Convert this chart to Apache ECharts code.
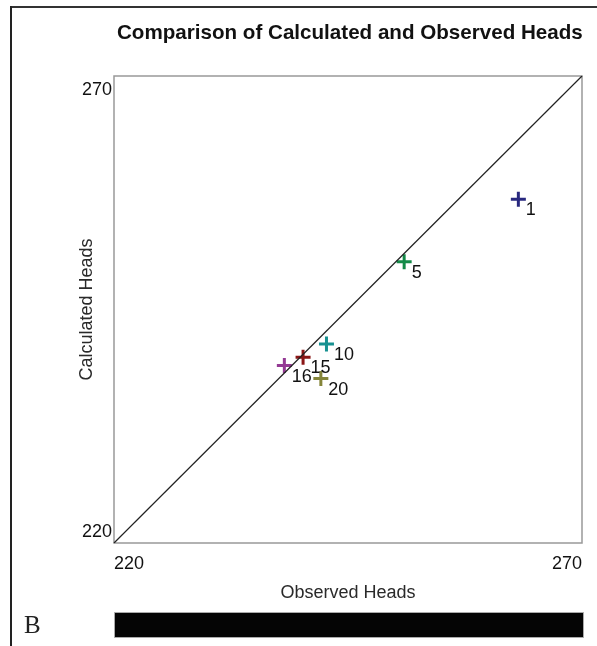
<!DOCTYPE html>
<html><head><meta charset="utf-8">
<script src="https://cdn.jsdelivr.net/npm/echarts@6/dist/echarts.min.js"></script>
<style>html,body{margin:0;padding:0;background:#fff;}#c{width:597px;height:646px;}</style>
</head><body><div id="c"></div>
<script>
const chartTitle = 'Comparison of Calculated and Observed Heads';
const wellNames = ['1', '5', '10', '15', '16', '20'];
const observedHeads = [263.2, 251.0, 242.7, 240.2, 238.2, 242.1];
const calculatedHeads = [256.8, 250.1, 241.3, 239.9, 239.0, 237.6];
const pointColors = ['#28287f', '#148a48', '#179191', '#8a1616', '#943a94', '#85853a'];
const axisMin = 220;
const axisMax = 270;
const identityX = [220, 270];
const identityY = [220, 270];

const chart = echarts.init(document.getElementById('c'), null, {renderer: 'canvas'});
const labelFont = 'Liberation Sans, Arial, sans-serif';

function valueAxis(extra) {
  return Object.assign({
    type: 'value', min: axisMin, max: axisMax, interval: axisMax - axisMin,
    axisLine: {show: false}, axisTick: {show: false}, splitLine: {show: false}
  }, extra);
}

const option = {
  backgroundColor: '#fff',
  animation: false,
  title: {
    text: chartTitle, left: 112, top: 18,
    textStyle: {fontFamily: labelFont, fontWeight: 'bold', fontSize: 20.6, color: '#111'}
  },
  grid: {left: 114, top: 76, width: 468, height: 467, show: true, borderColor: '#999', borderWidth: 1.5, backgroundColor: '#fff'},
  xAxis: [
    valueAxis({position: 'bottom', name: 'Observed Heads', nameLocation: 'middle', nameGap: 41, nameMoveOverlap: false,
      nameTextStyle: {fontFamily: labelFont, fontSize: 18, color: '#2a2a2a'},
      axisLabel: {showMaxLabel: false, align: 'left', margin: 12, fontFamily: labelFont, fontSize: 18, color: '#111'}}),
    valueAxis({position: 'bottom',
      axisLabel: {showMinLabel: false, align: 'right', margin: 12, fontFamily: labelFont, fontSize: 18, color: '#111'}})
  ],
  yAxis: [
    valueAxis({position: 'left', name: 'Calculated Heads', nameLocation: 'middle', nameGap: 18, nameMoveOverlap: false,
      nameTextStyle: {fontFamily: labelFont, fontSize: 18, color: '#2a2a2a'},
      axisLabel: {showMinLabel: false, verticalAlign: 'top', margin: 2, padding: [5, 0, 0, 0], fontFamily: labelFont, fontSize: 18, color: '#111'}}),
    valueAxis({position: 'left',
      axisLabel: {showMaxLabel: false, verticalAlign: 'bottom', margin: 2, padding: [0, 0, 2, 0], fontFamily: labelFont, fontSize: 18, color: '#111'}})
  ],
  series: [
    {
      type: 'line', xAxisIndex: 0, yAxisIndex: 0, symbol: 'none', silent: true,
      data: identityX.map((x, i) => [x, identityY[i]]),
      lineStyle: {color: '#222', width: 1.2}
    },
    {
      type: 'scatter', xAxisIndex: 0, yAxisIndex: 0,
      symbol: 'path://M6,0H9V6H15V9H9V15H6V9H0V6H6Z', symbolSize: 15,
      data: wellNames.map((n, i) => ({name: n, value: [observedHeads[i], calculatedHeads[i]], itemStyle: {color: pointColors[i], opacity: 1}})),
      label: {show: true, position: 'right', distance: 0, offset: [0, 11], formatter: p => p.name,
        fontFamily: labelFont, fontSize: 18, color: '#111'}
    }
  ],
  graphic: [
    {type: 'line', shape: {x1: 10, y1: 7, x2: 597, y2: 7}, style: {stroke: '#333', lineWidth: 2}},
    {type: 'line', shape: {x1: 11, y1: 6, x2: 11, y2: 646}, style: {stroke: '#222', lineWidth: 2}},
    {type: 'rect', shape: {x: 114.5, y: 612.5, width: 469, height: 25}, style: {fill: '#050505', stroke: '#aaa', lineWidth: 1}},
    {type: 'text', left: 24, top: 614, style: {text: 'B', font: '25px "Liberation Serif", serif', fill: '#222'}}
  ]
};
chart.setOption(option);
</script>
</body></html>
